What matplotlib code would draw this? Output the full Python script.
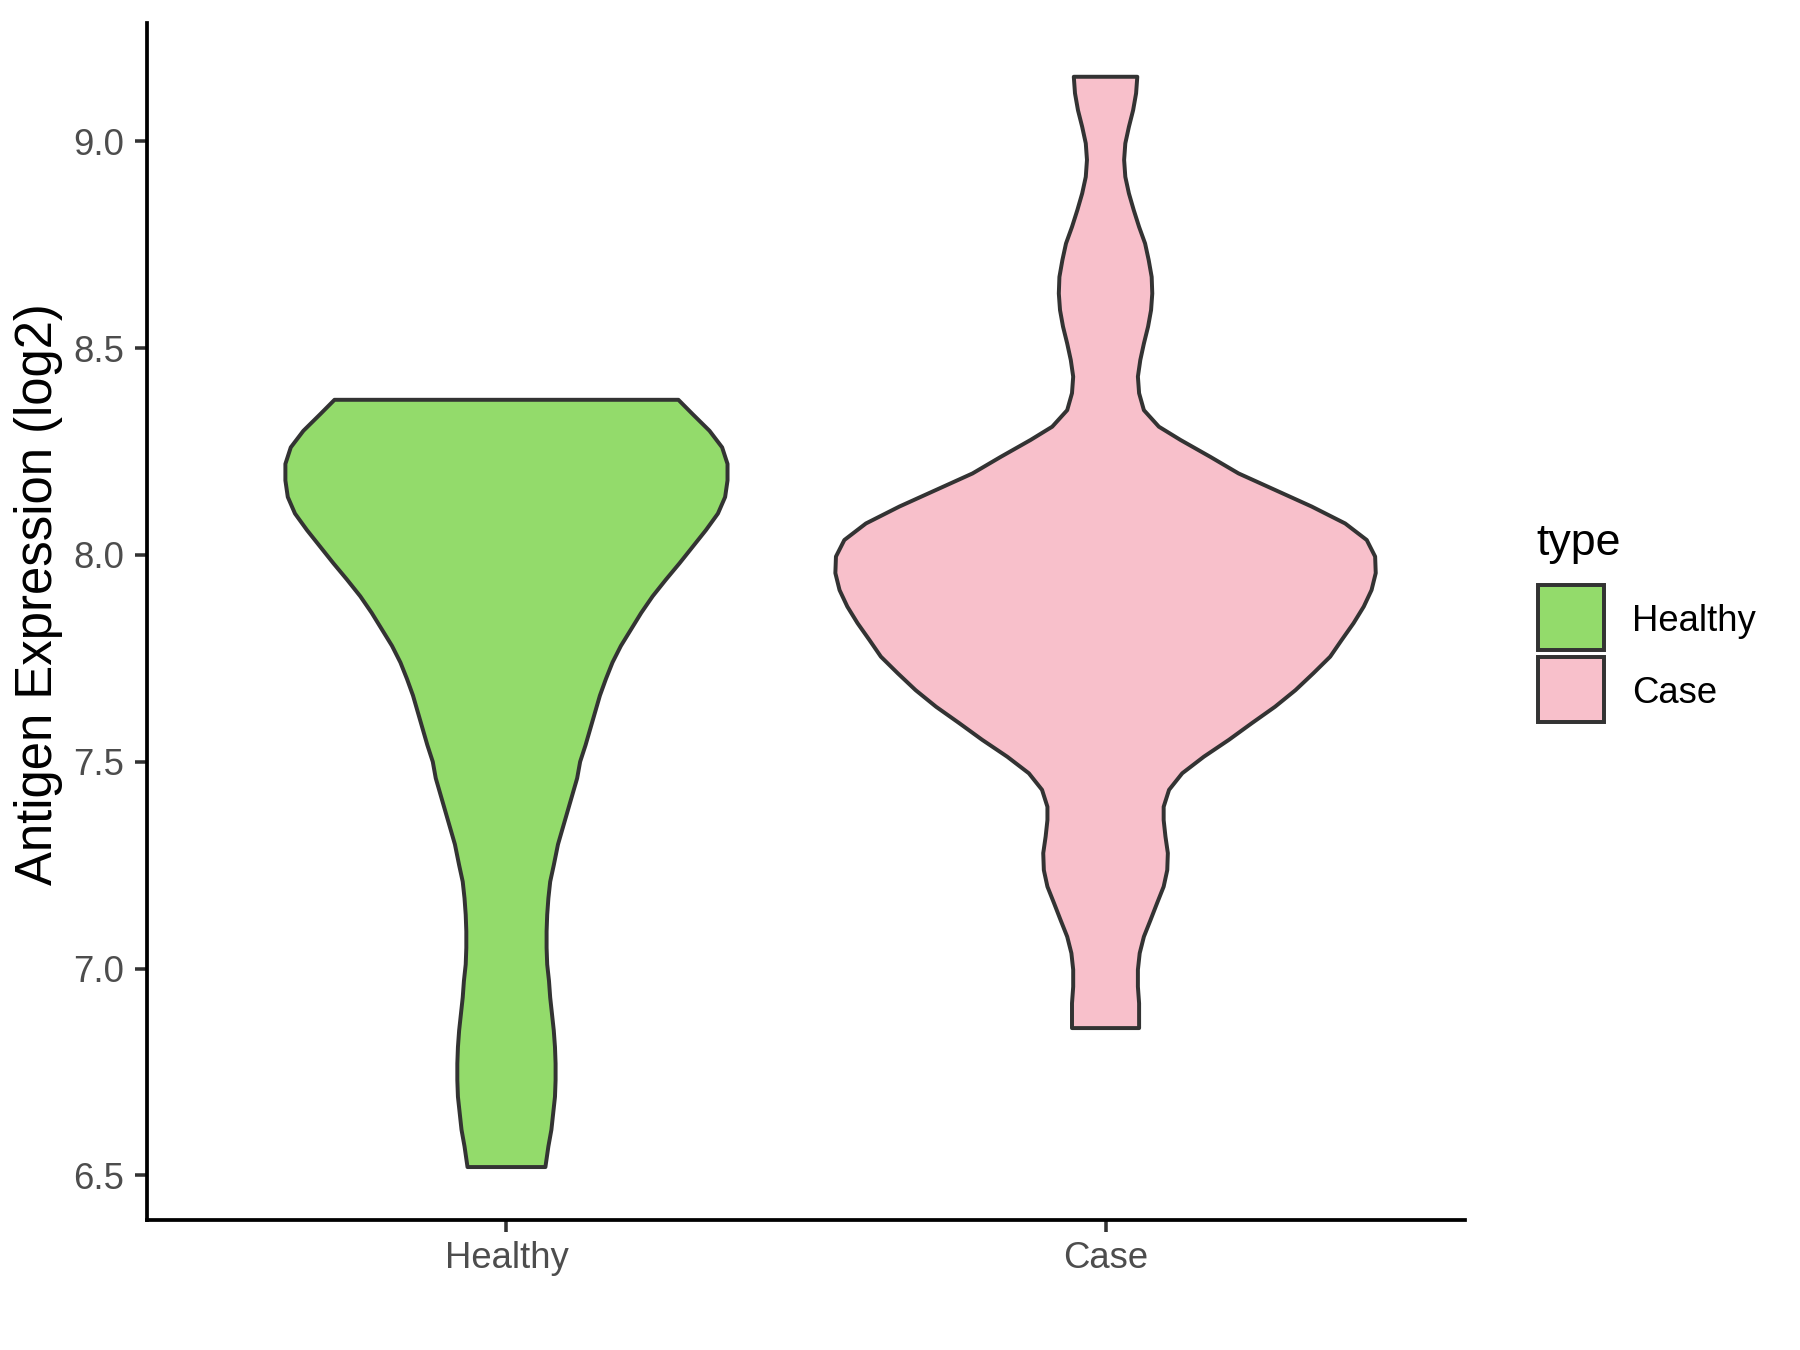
import numpy as np
import matplotlib
matplotlib.use('Agg')
import matplotlib.pyplot as plt
from matplotlib.patches import Rectangle

plt.rcParams['font.family'] = ['Liberation Sans', 'DejaVu Sans']

# groups and fill colours
groups = ['Healthy', 'Case']
fills = ['#93DB6B', '#F8C0CB']
edge = '#333333'

# violin outlines: y level and half-width (x units)
healthy_y = [6.52, 6.57, 6.61, 6.65, 6.69, 6.73, 6.77, 6.81, 6.85, 6.89,
             6.93, 6.97, 7.01, 7.05, 7.09, 7.13, 7.17, 7.21, 7.25, 7.30,
             7.34, 7.38, 7.42, 7.46, 7.50, 7.54, 7.58, 7.62, 7.66, 7.70,
             7.74, 7.78, 7.82, 7.86, 7.90, 7.94, 7.98, 8.02, 8.06, 8.10,
             8.14, 8.18, 8.22, 8.26, 8.30, 8.34, 8.375]
healthy_hw = [0.065, 0.070, 0.075, 0.078, 0.081, 0.082, 0.082, 0.081, 0.079, 0.076,
              0.073, 0.071, 0.068, 0.067, 0.067, 0.068, 0.070, 0.073, 0.079, 0.086,
              0.094, 0.102, 0.110, 0.118, 0.123, 0.132, 0.140, 0.148, 0.156, 0.166,
              0.177, 0.191, 0.208, 0.225, 0.244, 0.266, 0.289, 0.311, 0.333, 0.353,
              0.365, 0.369, 0.369, 0.360, 0.339, 0.311, 0.287]

case_y = [6.856, 6.876, 6.916, 6.956, 6.997, 7.037, 7.077, 7.117, 7.158, 7.198,
          7.238, 7.279, 7.319, 7.359, 7.391, 7.432, 7.472, 7.512, 7.553, 7.593,
          7.633, 7.673, 7.714, 7.754, 7.794, 7.835, 7.875, 7.915, 7.956, 7.996,
          8.036, 8.076, 8.117, 8.157, 8.197, 8.237, 8.278, 8.310, 8.350, 8.391,
          8.431, 8.471, 8.511, 8.552, 8.592, 8.632, 8.672, 8.713, 8.753, 8.793,
          8.834, 8.874, 8.914, 8.955, 8.995, 9.035, 9.075, 9.116, 9.156]
case_hw = [0.056, 0.056, 0.056, 0.054, 0.054, 0.057, 0.064, 0.075, 0.086, 0.097,
           0.103, 0.104, 0.100, 0.097, 0.097, 0.106, 0.128, 0.164, 0.206, 0.244,
           0.283, 0.317, 0.347, 0.375, 0.394, 0.414, 0.431, 0.444, 0.451, 0.450,
           0.436, 0.400, 0.344, 0.283, 0.222, 0.175, 0.125, 0.089, 0.064, 0.056,
           0.054, 0.058, 0.064, 0.071, 0.076, 0.078, 0.077, 0.072, 0.066, 0.056,
           0.047, 0.039, 0.033, 0.031, 0.033, 0.039, 0.046, 0.051, 0.053]

yticks = [6.5, 7.0, 7.5, 8.0, 8.5, 9.0]

W, H = 1800, 1350
fig = plt.figure(figsize=(12, 9), dpi=150)
ax = fig.add_axes([147 / W, 1 - 1220 / H, (1465 - 147) / W, (1220 - 23) / H])

profiles = [(healthy_y, healthy_hw), (case_y, case_hw)]
for pos, ((ys, hw), col) in enumerate(zip(profiles, fills), start=1):
    ys = np.asarray(ys)
    hw = np.asarray(hw)
    xs = np.concatenate([pos - hw, (pos + hw)[::-1]])
    yy = np.concatenate([ys, ys[::-1]])
    ax.fill(xs, yy, facecolor=col, edgecolor=edge, linewidth=1.9, joinstyle='round')

ax.set_xlim(0.4, 2.6)
ax.set_ylim(6.392, 9.286)
ax.set_xticks([1, 2])
ax.set_xticklabels(groups)
ax.set_yticks(yticks)
ax.set_yticklabels([f'{t:.1f}' for t in yticks])

for s in ['top', 'right']:
    ax.spines[s].set_visible(False)
for s in ['left', 'bottom']:
    ax.spines[s].set_linewidth(1.8)
    ax.spines[s].set_color('black')

ax.tick_params(length=5.9, width=1.7, color='#333333', labelcolor='#4D4D4D',
               labelsize=17.5)
ax.tick_params(axis='y', pad=5)
ax.tick_params(axis='x', pad=4)

ax.set_ylabel('Antigen Expression (log2)', fontsize=24.4, color='black')
ax.yaxis.set_label_coords(-0.064, 0.523)

# legend drawn like ggplot's guide
fig.text(1536.7 / W, 1 - 555 / H, 'type', fontsize=21.5, ha='left', va='baseline')
for i, (lab, col) in enumerate(zip(groups, fills)):
    top = 585 + i * 71.7
    fig.add_artist(Rectangle((1538.3 / W, 1 - (top + 65) / H), 66 / W, 65 / H,
                             transform=fig.transFigure, facecolor=col,
                             edgecolor=edge, linewidth=1.9))
    fig.text(1631.7 / W, 1 - (top + 37) / H, lab, fontsize=17.5,
             ha='left', va='center')

fig.savefig('out.png', dpi=150)
